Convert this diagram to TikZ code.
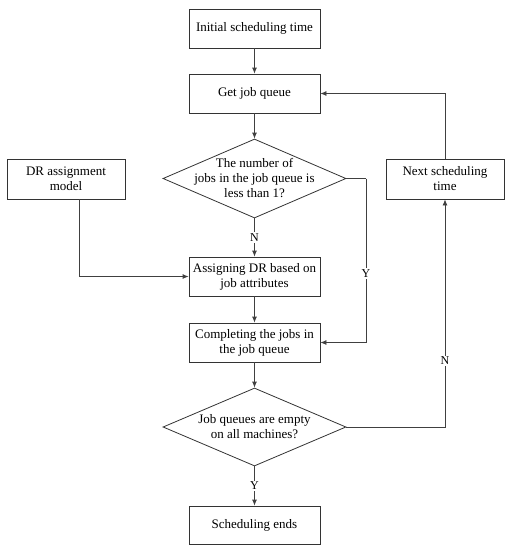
\documentclass[tikz,border=0pt]{standalone}
\usepackage{fontspec}
\setmainfont{Liberation Serif}
\usetikzlibrary{shapes.geometric,arrows.meta,calc}
\begin{document}
\begin{tikzpicture}[x=1pt,y=-1pt,
  line/.style={draw=black!75, line width=0.8pt},
  arr/.style={line, -{Latex[length=6pt,width=5pt]}},
  box/.style={draw=black!80, line width=0.8pt, rectangle, inner sep=0pt, align=center,
     font=\fontsize{13}{15}\selectfont, minimum width=131pt, minimum height=39pt},
  sidebox/.style={box, minimum width=118pt, minimum height=40pt},
  dia/.style={draw=black!80, line width=0.8pt, diamond, inner sep=0pt,
     minimum width=183pt, minimum height=79pt},
  txt/.style={align=center, inner sep=0pt, font=\fontsize{13}{15}\selectfont},
  lab/.style={fill=white, inner sep=1.5pt, font=\fontsize{12}{14}\selectfont}]
\useasboundingbox (0,0) rectangle (512,550);
\node[box] (init) at (254.5,28.5) {Initial scheduling time};
\node[box] (getq) at (254.5,93.5) {Get job queue};
\node[dia] (d1) at (254.5,178.5) {};
\node[txt] (d1t) at (254.5,178.5) {The number of\\jobs in the job queue is\\less than 1?};
\node[sidebox] (dr) at (66,179) {DR assignment\\model};
\node[sidebox] (next) at (445,179) {Next scheduling\\time};
\node[box] (assign) at (254.5,276.5) {Assigning DR based on\\job attributes};
\node[box] (comp) at (254.5,342.5) {Completing the jobs in\\the job queue};
\node[dia, minimum height=78pt] (d2) at (254.5,427) {};
\node[txt] (d2t) at (254.5,427) {Job queues are empty\\on all machines?};
\node[box, minimum height=38pt] (end) at (254.5,525) {Scheduling ends};
\coordinate (yc) at (366,178.5);
\draw[arr] (init) -- (getq);
\draw[arr] (getq) -- (d1);
\draw[arr] (d1) -- node[lab] (n1) {N} (assign);
\draw[arr] ([xshift=13pt]dr.south) |- (assign.west);
\draw[line] (d1.east) -- (yc);
\draw[arr] (yc) |- node[lab, pos=0.29] (y1) {Y} (comp.east);
\draw[arr] (assign) -- (comp);
\draw[arr] (comp) -- (d2);
\draw[arr] (d2) -- node[lab] (y2) {Y} (end);
\draw[arr] (d2.east) -| node[lab, pos=0.645] (n2) {N} (next.south);
\draw[arr] (next.north) |- (getq.east);
\end{tikzpicture}
\end{document}
